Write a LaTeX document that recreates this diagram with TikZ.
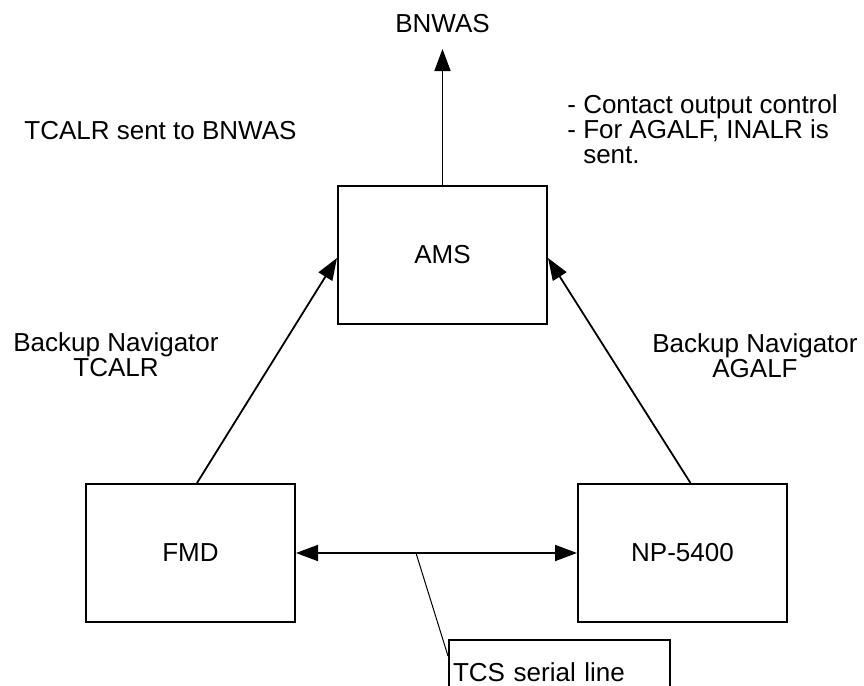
\documentclass[tikz,border=0pt]{standalone}
\usepackage{fontspec}
\setmainfont{Liberation Sans}
\usepackage{tikz}
\usetikzlibrary{arrows.meta,positioning,calc}

\begin{document}
\begin{tikzpicture}[
    x=0.5pt, y=-0.5pt,
    every node/.style={font=\fontsize{13}{12.5}\selectfont, inner sep=3pt},
    unit/.style={rectangle, draw=black, line width=1pt, minimum width=104.5pt, minimum height=69pt},
    note/.style={align=center},
    arrow/.style={-{Triangle[length=11pt,width=8pt]}, line width=0.9pt, draw=black},
    biarrow/.style={{Triangle[length=11pt,width=8pt]}-{Triangle[length=11pt,width=8pt]}, line width=0.9pt, draw=black},
    leader/.style={line width=0.5pt, draw=black}
]
    \useasboundingbox (0,0) rectangle (864,686);
    \clip (0,0) rectangle (864,686);

    \node[unit] (ams) at (442.5,255) {AMS};
    \node[unit, below left=79pt and 20.5pt of ams] (fmd) {FMD};
    \node[unit, below right=79pt and 14.5pt of ams] (np) {NP-5400};
    \node[above=73pt of ams] (bnwas) {BNWAS};

    \node[anchor=base west] (sentbnwas) at (18,139) {TCALR sent to BNWAS};
    \node[anchor=north west, align=left] (contact) at (561,88) {- Contact output control\\- For AGALF, INALR is\\\hphantom{- }sent.};
    \node[note] (tcalr) at (116,355) {Backup Navigator\\TCALR};
    \node[note] (agalf) at (755,356) {Backup Navigator\\AGALF};
    \node[rectangle, draw=black, line width=1pt, anchor=north west, minimum width=110.5pt, minimum height=32pt,
          text width=106.5pt, inner xsep=2pt, align=left] (tcs) at (448,639) {TCS serial line};

    \draw[arrow] (ams.north) -- ([yshift=-5pt]bnwas.south);
    \draw[arrow] ([xshift=3.25pt]fmd.north) -- ([yshift=-1.5pt]ams.west);
    \draw[arrow] ([xshift=4pt]np.north) -- ([yshift=-1.5pt]ams.east);
    \draw[biarrow] (fmd.east) -- (np.west);
    \coordinate (tap) at ($(fmd.east)!0.427!(np.west)$);
    \draw[leader] (tap) -- ([yshift=8pt]tcs.west);
\end{tikzpicture}
\end{document}
